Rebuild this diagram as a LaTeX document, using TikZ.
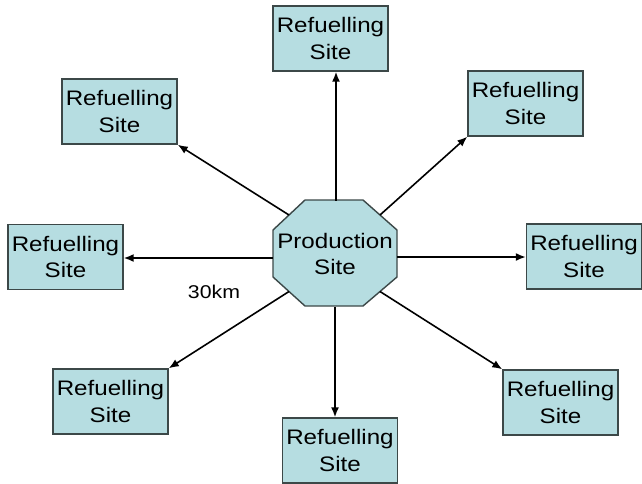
\documentclass[tikz,border=0pt]{standalone}
\usepackage{graphicx}
\usepackage{fontspec}
\setmainfont{Liberation Sans}
\usetikzlibrary{arrows.meta}
\newcommand\hstr[1]{\scalebox{1.15}[1]{#1}}
\definecolor{boxfill}{HTML}{B6DDE1}
\definecolor{boxline}{HTML}{3C4848}
\begin{document}
\begin{tikzpicture}[x=1pt,y=-1pt,
  sitebox/.style={draw=boxline,line width=1.4pt,fill=boxfill,minimum width=115pt,minimum height=65pt,inner sep=0pt,align=center,font=\fontsize{21}{26.5}\selectfont},
  conn/.style={line width=1.6pt,-{Latex[length=10pt,width=8pt]}},
  lbl/.style={font=\fontsize{18.5}{22}\selectfont,inner sep=0pt}]
\useasboundingbox (0,0) rectangle (642,483);
% production site (octagon)
\draw[draw=boxline,line width=1.4pt,fill=boxfill]
  (305,200) -- (363,200) -- (397,230) -- (397,277) -- (363,306) -- (305,306) -- (273,277) -- (273,230) -- cycle;
\node[minimum width=124pt,minimum height=106pt,inner sep=0pt,align=center,font=\fontsize{21}{26.5}\selectfont] (prod) at (335,254) {\hstr{Production}\\\hstr{Site}};
\coordinate (pNE) at (380,215);
\coordinate (pNW) at (289,215);
\coordinate (pSE) at (380,291.5);
\coordinate (pSW) at (289,291.5);
% refuelling sites
\node[sitebox] (N)  at (330.5,38.5) {\hstr{Refuelling}\\\hstr{Site}};
\node[sitebox] (NE) at (525.5,103.5) {\hstr{Refuelling}\\\hstr{Site}};
\node[sitebox] (E)  at (584,256.5) {\hstr{Refuelling}\\\hstr{Site}};
\node[sitebox] (SE) at (560.5,402.5) {\hstr{Refuelling}\\\hstr{Site}};
\node[sitebox] (S)  at (340,450.5) {\hstr{Refuelling}\\\hstr{Site}};
\node[sitebox] (SW) at (110.5,401.5) {\hstr{Refuelling}\\\hstr{Site}};
\node[sitebox] (W)  at (65.5,257) {\hstr{Refuelling}\\\hstr{Site}};
\node[sitebox] (NW) at (119.5,111.5) {\hstr{Refuelling}\\\hstr{Site}};
% connectors
\draw[conn] (prod.north -| 336,0) -- (N.south -| 336,0);
\draw[conn] (prod.south -| 335,0) -- (S.north -| 335,0);
\draw[conn] (prod.west |- 0,258) -- (W.east |- 0,258);
\draw[conn] (prod.east |- 0,257) -- (E.west |- 0,257);
\draw[conn] (pNE) -- (NE.south west);
\draw[conn] (pNW) -- (NW.south east);
\draw[conn] (pSE) -- (SE.north west);
\draw[conn] (pSW) -- (SW.north east);
\node[lbl] (dist) at (214,292) {\hstr{30km}};
\end{tikzpicture}
\end{document}
